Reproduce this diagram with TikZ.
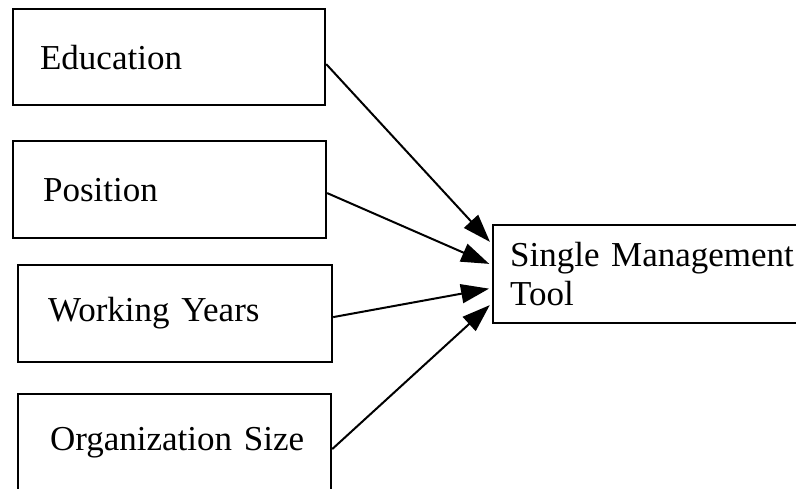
\documentclass[tikz,border=0pt]{standalone}
\usepackage{fontspec}
\setmainfont{Liberation Serif}
\usetikzlibrary{arrows.meta,calc}

\newcommand{\indentby}[1]{\hspace*{#1pt}}

\begin{document}
\begin{tikzpicture}[x=1pt,y=1pt,
  factor/.style={draw=black, line width=2.2pt, anchor=north west,
    align=left, inner xsep=0pt, inner ysep=0pt, text width=#1pt,
    font=\fontsize{35}{39}\selectfont},
  link/.style={line width=2pt, -{Triangle[length=28pt,width=19pt]}, shorten >=3pt}
]
\useasboundingbox (0,0) rectangle (796,488);
\fill[white] (0,0) rectangle (796,488);

% input factors
\node[factor=312, minimum height=96pt] (edu) at (12,480) {\indentby{27}Education};
\node[factor=313, minimum height=97pt] (pos) at (12,348) {\indentby{30}Position};
\node[factor=314, minimum height=97pt] (work) at (17,224) {\indentby{30}Working Years};
\node[factor=313, minimum height=97pt] (org) at (17,95) {\indentby{32}Organization Size};

% outcome
\node[factor=320, minimum height=98pt] (smt) at (492,264)
  {\indentby{17}Single Management\\\indentby{17}Tool};

% connectors
\draw[link] ($(edu.east)+(0,-7)$) -- ($(smt.west)+(0,30)$);
\draw[link] ($(pos.east)+(0,-3.5)$) -- ($(smt.west)+(0,9)$);
\draw[link] ($(work.east)+(0,-3.5)$) -- ($(smt.west)+(0,-14)$);
\draw[link] ($(org.east)+(0,-6.5)$) -- ($(smt.west)+(0,-29)$);
\end{tikzpicture}
\end{document}
